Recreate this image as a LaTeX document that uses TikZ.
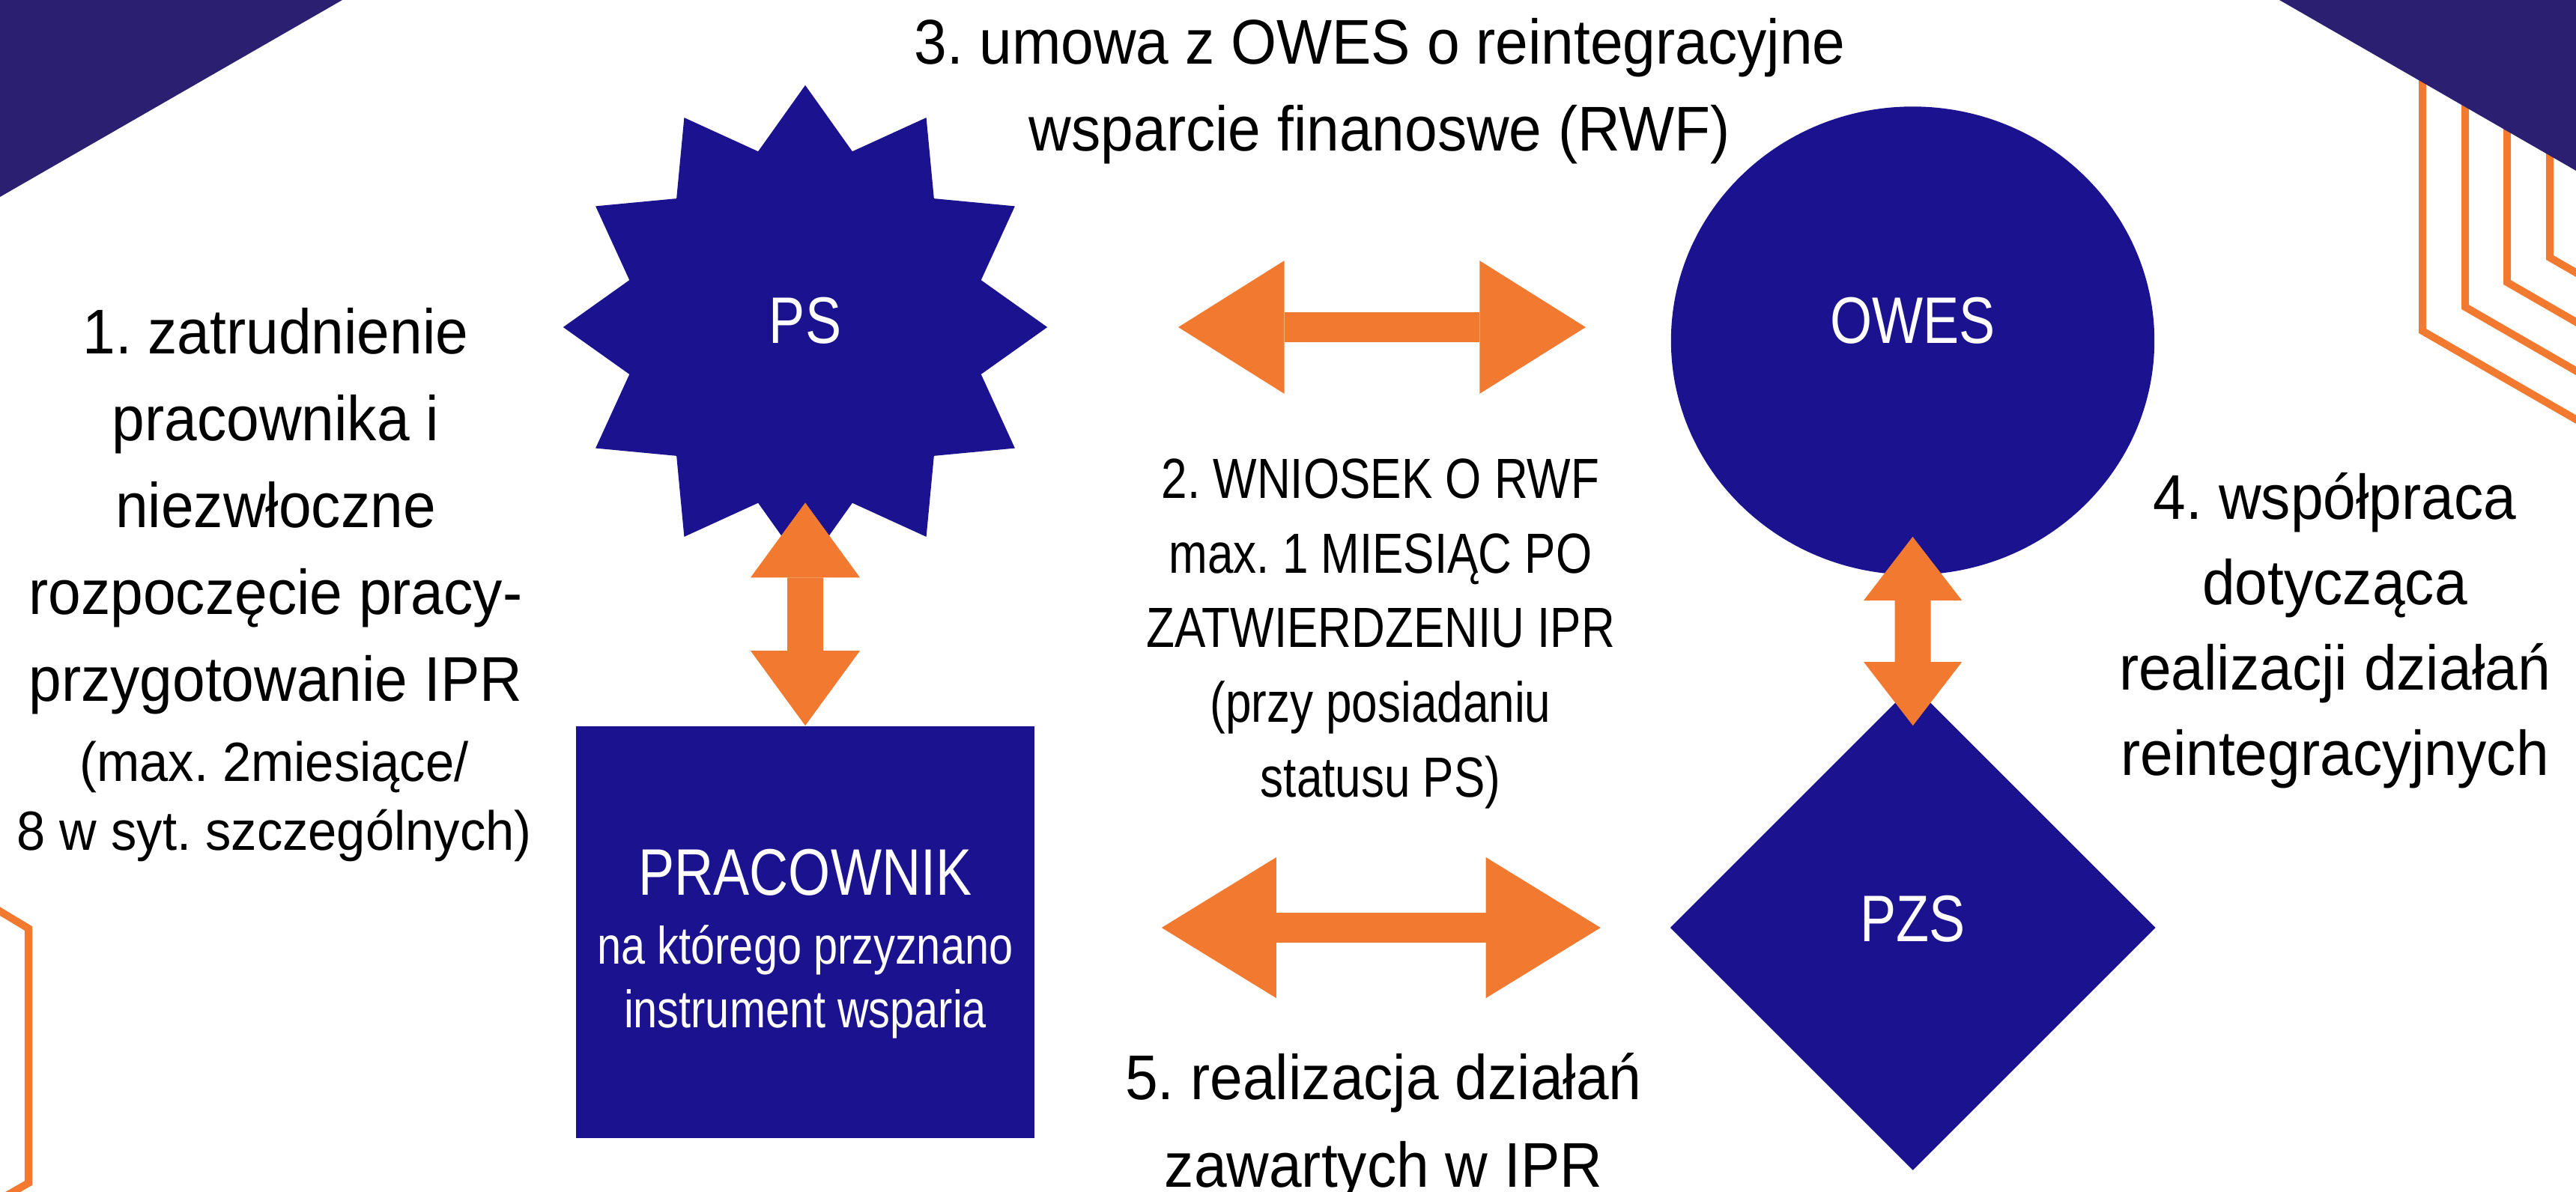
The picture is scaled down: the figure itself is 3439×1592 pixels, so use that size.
\documentclass[tikz,border=0pt]{standalone}
\usepackage{fontspec}
\setmainfont{Liberation Sans}
\newfontfamily\widefont{Liberation Sans}[FakeStretch=0.93]
\newfontfamily\narrowfont{Liberation Sans}[FakeStretch=0.82]
\usetikzlibrary{shapes.geometric, arrows.meta}
\definecolor{rwblue}{RGB}{27,18,144}
\definecolor{rwdeep}{RGB}{42,31,112}
\definecolor{rworange}{RGB}{242,122,48}
\frenchspacing
\tikzset{
  rwshape/.style={fill=rwblue, draw=none, inner sep=0pt, text=white,
                  font=\narrowfont\fontsize{25}{30}\selectfont},
  rwstar/.style={rwshape, star, star points=12, star point ratio=1.33,
                 minimum size=6.46cm},
  rwround/.style={rwshape, ellipse, minimum width=6.45cm,
                  minimum height=6.25cm},
  rwdiamond/.style={rwshape, diamond, minimum width=6.48cm,
                    minimum height=6.48cm},
  rwbox/.style={rwshape, rectangle, minimum width=6.12cm,
                minimum height=5.5cm},
  rwlink/.style n args={3}{draw=rworange, line width=#1,
    {Triangle[width=#2, length=#3, line width=0pt]}-{Triangle[width=#2, length=#3, line width=0pt]}},
  rwnote/.style={anchor=base, align=center, inner sep=0pt,
                 font=\widefont\fontsize{24}{33}\selectfont},
  rwsmall/.style={rwnote, font=\widefont\fontsize{21}{26.2}\selectfont},
  rwcaps/.style={rwnote, font=\narrowfont\fontsize{21.5}{28.3}\selectfont},
  rwdeco/.style={draw=rworange, line width=0.1cm, line join=miter}
}

\begin{document}
\begin{tikzpicture}[x=0.01cm, y=-0.01cm]
  \useasboundingbox (0,0) rectangle (3439,1592);
  % corner ornaments
  \begin{scope}
    \clip (0,0) rectangle (3439,1592);
    \foreach \xv/\yv in {3234/442, 3291/410, 3347/377, 3404/344} {
      \draw[rwdeco] (\xv,-10) -- (\xv,\yv) -- ++(300,173);
    }
    \draw[rwdeco] (-40,1193) -- (38,1240) -- (38,1580) -- (-40,1625);
    \fill[rwdeep] (0,0) -- (457,0) -- (0,263) -- cycle;
    \fill[rwdeep] (3043,0) -- (3439,0) -- (3439,228) -- cycle;
  \end{scope}

  \node[rwstar, text depth=0.18cm] (ps) at (1075,437) {PS};
  \node[rwround, text depth=0.54cm] (owes) at (2553.5,455) {OWES};
  \node[rwdiamond, text depth=0.24cm] (pzs) at (2553.7,1239) {PZS};
  \node[rwbox] (worker) at (1075,1245) {};
  \node[rwcaps, text=white, font=\narrowfont\fontsize{25}{30}\selectfont]
    (workertitle) at (1075,1195) {PRACOWNIK};
  \node[rwcaps, text=white, font=\narrowfont\fontsize{20}{24}\selectfont]
    (workernote) at (1075,1372) {na którego przyznano\\instrument wsparia};

  % multi-line notes sit on the baseline of their last line
  \node[rwnote] (stepone) at (368,937)
    {1. zatrudnienie\\pracownika i\\niezwłoczne\\rozpoczęcie pracy-\\przygotowanie IPR};
  \node[rwsmall] (steponenote) at (366,1136)
    {(max. 2miesiące/\\8 w syt. szczególnych)};
  \node[rwcaps] (steptwo) at (1843,1064)
    {2. WNIOSEK O RWF\\max. 1 MIESIĄC PO\\ZATWIERDZENIU IPR\\(przy posiadaniu\\statusu PS)};
  \node[rwnote] (stepthree) at (1842,202)
    {3. umowa z OWES o reintegracyjne\\wsparcie finanoswe (RWF)};
  \node[rwnote, font=\widefont\fontsize{24}{32.5}\selectfont] (stepfour) at (3117,1036)
    {4. współpraca\\dotycząca\\realizacji działań\\reintegracyjnych};
  \node[rwnote] (stepfive) at (1847,1585)
    {5. realizacja działań\\zawartych w IPR};

  \draw[rwlink={0.393cm}{1.777cm}{1.415cm}, shorten <=1.735cm, shorten >=1.132cm]
    (ps.east) -- (ps.east -| owes.west);
  \draw[rwlink={0.39cm}{1.88cm}{1.53cm}, shorten <=1.688cm, shorten >=0.92cm]
    (worker.east |- pzs.west) -- (pzs.west);
  \draw[rwlink={0.477cm}{1.46cm}{1.0cm}, shorten <=-0.9cm]
    (ps.south) -- (worker.north);
  \draw[rwlink={0.48cm}{1.31cm}{0.85cm}, shorten <=-0.515cm, shorten >=-0.55cm]
    (owes.south) -- (pzs.north);
\end{tikzpicture}
\end{document}
